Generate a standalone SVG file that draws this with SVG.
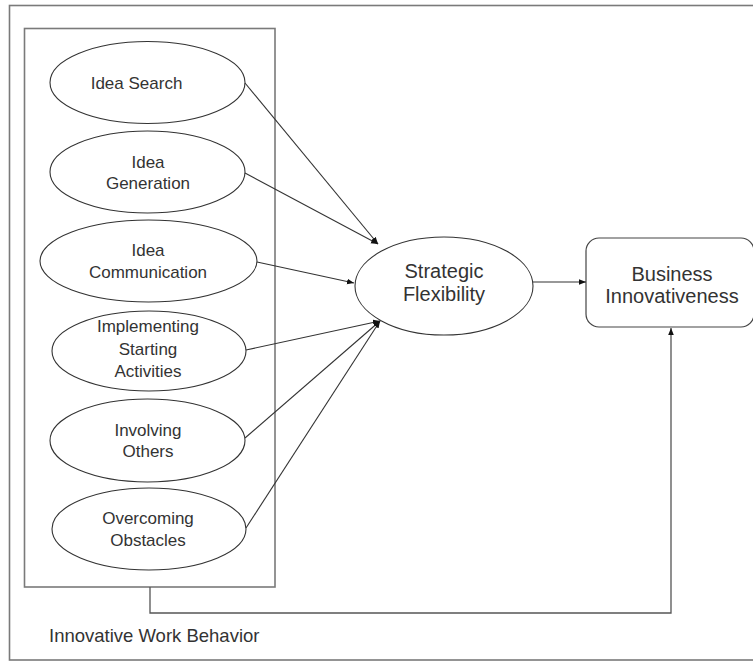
<svg xmlns="http://www.w3.org/2000/svg" width="753" height="661" viewBox="0 0 753 661">
<style>
.frame{fill:none;stroke:#7a7a7a;stroke-width:1.6}
.ell{fill:#fff;stroke:#333;stroke-width:1.1}
.box{fill:#fff;stroke:#444;stroke-width:1.2}
.t{font-family:"Liberation Sans",Arial,sans-serif;font-size:17px;fill:#333;text-anchor:middle}
.big{font-size:20px}
.con{fill:none;stroke:#333;stroke-width:1.1}
.bus{fill:none;stroke:#555;stroke-width:1.3}
</style>
<defs>
<marker id="ah" viewBox="0 0 10 10" refX="10" refY="5" markerWidth="7" markerHeight="7" markerUnits="userSpaceOnUse" orient="auto">
<path d="M0,1 L10,5 L0,9 Z" fill="#111"/>
</marker>
</defs>
<rect width="753" height="661" fill="#fff"/>
<rect id="outer-frame" class="frame" x="9.5" y="5.5" width="770" height="654.5"/>
<g id="iwb-group">
<rect class="frame" x="24.5" y="28.5" width="250.5" height="558.5"/>
<text class="t" x="49" y="642" style="text-anchor:start;font-size:18.5px">Innovative Work Behavior</text>
</g>
<g id="idea-search">
<ellipse class="ell" cx="147.5" cy="82.5" rx="97.5" ry="41"/>
<text class="t" x="136.5" y="89">Idea Search</text>
</g>
<g id="idea-generation">
<ellipse class="ell" cx="147.5" cy="172" rx="97.5" ry="41"/>
<text class="t" x="148" y="168">Idea</text>
<text class="t" x="148" y="189">Generation</text>
</g>
<g id="idea-communication">
<ellipse class="ell" cx="148.5" cy="261" rx="108.5" ry="41"/>
<text class="t" x="148" y="256">Idea</text>
<text class="t" x="148" y="278">Communication</text>
</g>
<g id="implementing">
<ellipse class="ell" cx="149" cy="351" rx="97" ry="40"/>
<text class="t" x="148" y="332">Implementing</text>
<text class="t" x="148" y="355">Starting</text>
<text class="t" x="148" y="377">Activities</text>
</g>
<g id="involving-others">
<ellipse class="ell" cx="147.5" cy="440.5" rx="97.5" ry="41.5"/>
<text class="t" x="148" y="436">Involving</text>
<text class="t" x="148" y="457">Others</text>
</g>
<g id="overcoming-obstacles">
<ellipse class="ell" cx="149" cy="529" rx="97" ry="41"/>
<text class="t" x="148" y="524">Overcoming</text>
<text class="t" x="148" y="546">Obstacles</text>
</g>
<g id="strategic-flexibility">
<ellipse class="ell" cx="444" cy="286" rx="89" ry="49"/>
<text class="t big" x="444" y="278">Strategic</text>
<text class="t big" x="444" y="301">Flexibility</text>
</g>
<g id="business-innovativeness">
<rect class="box" x="586" y="238" width="168" height="89" rx="13"/>
<text class="t big" x="672" y="281">Business</text>
<text class="t big" x="672" y="303">Innovativeness</text>
</g>
<g id="connectors">
<line class="con" x1="245" y1="83" x2="378" y2="244" marker-end="url(#ah)"/>
<line class="con" x1="245" y1="173" x2="378" y2="244" marker-end="url(#ah)"/>
<line class="con" x1="257" y1="262" x2="354" y2="283" marker-end="url(#ah)"/>
<line class="con" x1="246" y1="350" x2="380" y2="321" marker-end="url(#ah)"/>
<line class="con" x1="245" y1="438" x2="380" y2="321" marker-end="url(#ah)"/>
<line class="con" x1="246" y1="528" x2="380" y2="321" marker-end="url(#ah)"/>
<line class="con" x1="533" y1="282" x2="586" y2="282" marker-end="url(#ah)"/>
<polyline class="bus" points="150,587 150,613 671,613 671,328" marker-end="url(#ah)"/>
</g>
</svg>
